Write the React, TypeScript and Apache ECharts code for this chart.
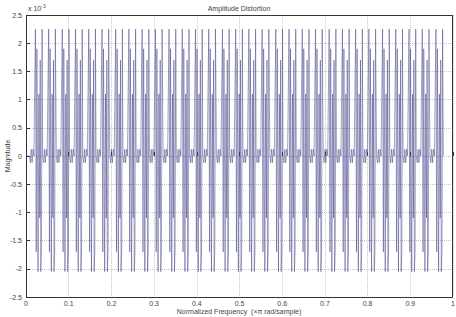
import React, { useEffect, useRef } from "react";
import * as echarts from "echarts";

// Tick labels
const xTicks = [0, 0.1, 0.2, 0.3, 0.4, 0.5, 0.6, 0.7, 0.8, 0.9, 1];
const yTicks = [-2.5, -2, -1.5, -1, -0.5, 0, 0.5, 1, 1.5, 2, 2.5];

// One repeating cycle of the response
// (phase within a cycle, magnitude in units of 1e-3)
const cyclePhase = [0, 0.068, 0.135, 0.2, 0.27, 0.34, 0.39, 0.45, 0.51, 0.56, 0.65, 0.71, 0.77, 0.81, 0.85, 0.9, 0.95];
const cycleValue = [0, -0.12, 0.12, -0.12, 0.12, 0, 1.1, 2.25, -1.7, 1.9, -2.05, 1.1, -1.1, 1.7, -2.05, -1.7, 2.25];

// Starting frequency of each of the 31 cycles seen in the picture
const cycleStarts = [
  0.008, 0.039, 0.071, 0.102, 0.133, 0.164, 0.196, 0.227, 0.258, 0.289,
  0.321, 0.352, 0.383, 0.414, 0.446, 0.477, 0.508, 0.539, 0.571, 0.602,
  0.633, 0.664, 0.696, 0.727, 0.758, 0.789, 0.821, 0.852, 0.883, 0.914,
  0.946,
];
const cycleWidth = 0.03125;

export default function App() {
  const ref = useRef<HTMLDivElement>(null);
  useEffect(() => {
    if (!ref.current) return;
    const chart = echarts.init(ref.current, null, { renderer: "svg" });
    const data: number[][] = [[0, 0]];
    cycleStarts.forEach((s) => {
      cyclePhase.forEach((p, i) => data.push([s + p * cycleWidth, cycleValue[i]]));
    });
    data.push([cycleStarts[cycleStarts.length - 1] + cycleWidth, 0]);

    const font = "Liberation Sans, Arial, sans-serif";
    const txt = "#444";
    const frame = "#333";
    chart.setOption({
      animation: false,
      backgroundColor: "#fff",
      grid: {
        left: 26,
        right: 3,
        top: 15,
        bottom: 20,
        containLabel: false,
        outerBoundsMode: "none",
      },
      xAxis: {
        type: "value",
        min: 0,
        max: 1,
        interval: 0.1,
        axisLine: { show: false },
        axisTick: { show: true, inside: true, length: 4, lineStyle: { color: frame } },
        axisLabel: { fontSize: 7, color: txt, fontFamily: font, margin: 3 },
        splitLine: { show: true, lineStyle: { color: "#c4c4c4", type: "dotted", width: 1 } },
      },
      yAxis: {
        type: "value",
        min: -2.5,
        max: 2.5,
        interval: 0.5,
        axisLine: { show: false },
        axisTick: { show: true, inside: true, length: 4, lineStyle: { color: frame } },
        axisLabel: { fontSize: 7, color: txt, fontFamily: font, margin: 4 },
        splitLine: { show: true, lineStyle: { color: "#c4c4c4", type: "dotted", width: 1 } },
      },
      graphic: [
        {
          type: "polyline",
          z: 100,
          silent: true,
          shape: {
            points: [
              [26.5, 15.5],
              [452.5, 15.5],
              [452.5, 297.5],
              [26.5, 297.5],
              [26.5, 15.5],
            ],
          },
          style: { stroke: frame, lineWidth: 1, fill: null },
        },
        {
          type: "text",
          x: 239,
          y: 8,
          style: {
            text: "Amplitude Distortion",
            fontSize: 7,
            fill: txt,
            fontFamily: font,
            align: "center",
            verticalAlign: "middle",
          },
        },
        {
          type: "text",
          x: 239,
          y: 311,
          style: {
            text: "Normalized Frequency  (\u00d7\u03c0 rad/sample)",
            fontSize: 7,
            fill: txt,
            fontFamily: font,
            align: "center",
            verticalAlign: "middle",
          },
        },
        {
          type: "text",
          x: 7,
          y: 156,
          rotation: Math.PI / 2,
          style: {
            text: "Magnitude",
            fontSize: 7,
            fill: txt,
            fontFamily: font,
            align: "center",
            verticalAlign: "middle",
          },
        },
        {
          type: "text",
          x: 28,
          y: 3,
          style: {
            text: "x 10{s|-3}",
            fontSize: 7,
            fill: txt,
            fontFamily: font,
            rich: { s: { fontSize: 5, verticalAlign: "top", fill: txt, padding: [0, 0, 5, 0] } },
          },
        },
      ],
      series: [
        {
          type: "line",
          data,
          showSymbol: false,
          lineStyle: { color: "#3c3c82", width: 0.6, opacity: 0.8 },
          silent: true,
        },
      ],
    });
    return () => chart.dispose();
  }, []);
  return (
    <div
      ref={ref}
      style={{ position: "fixed", left: 0, top: 0, width: 456, height: 317, background: "#fff" }}
    />
  );
}
